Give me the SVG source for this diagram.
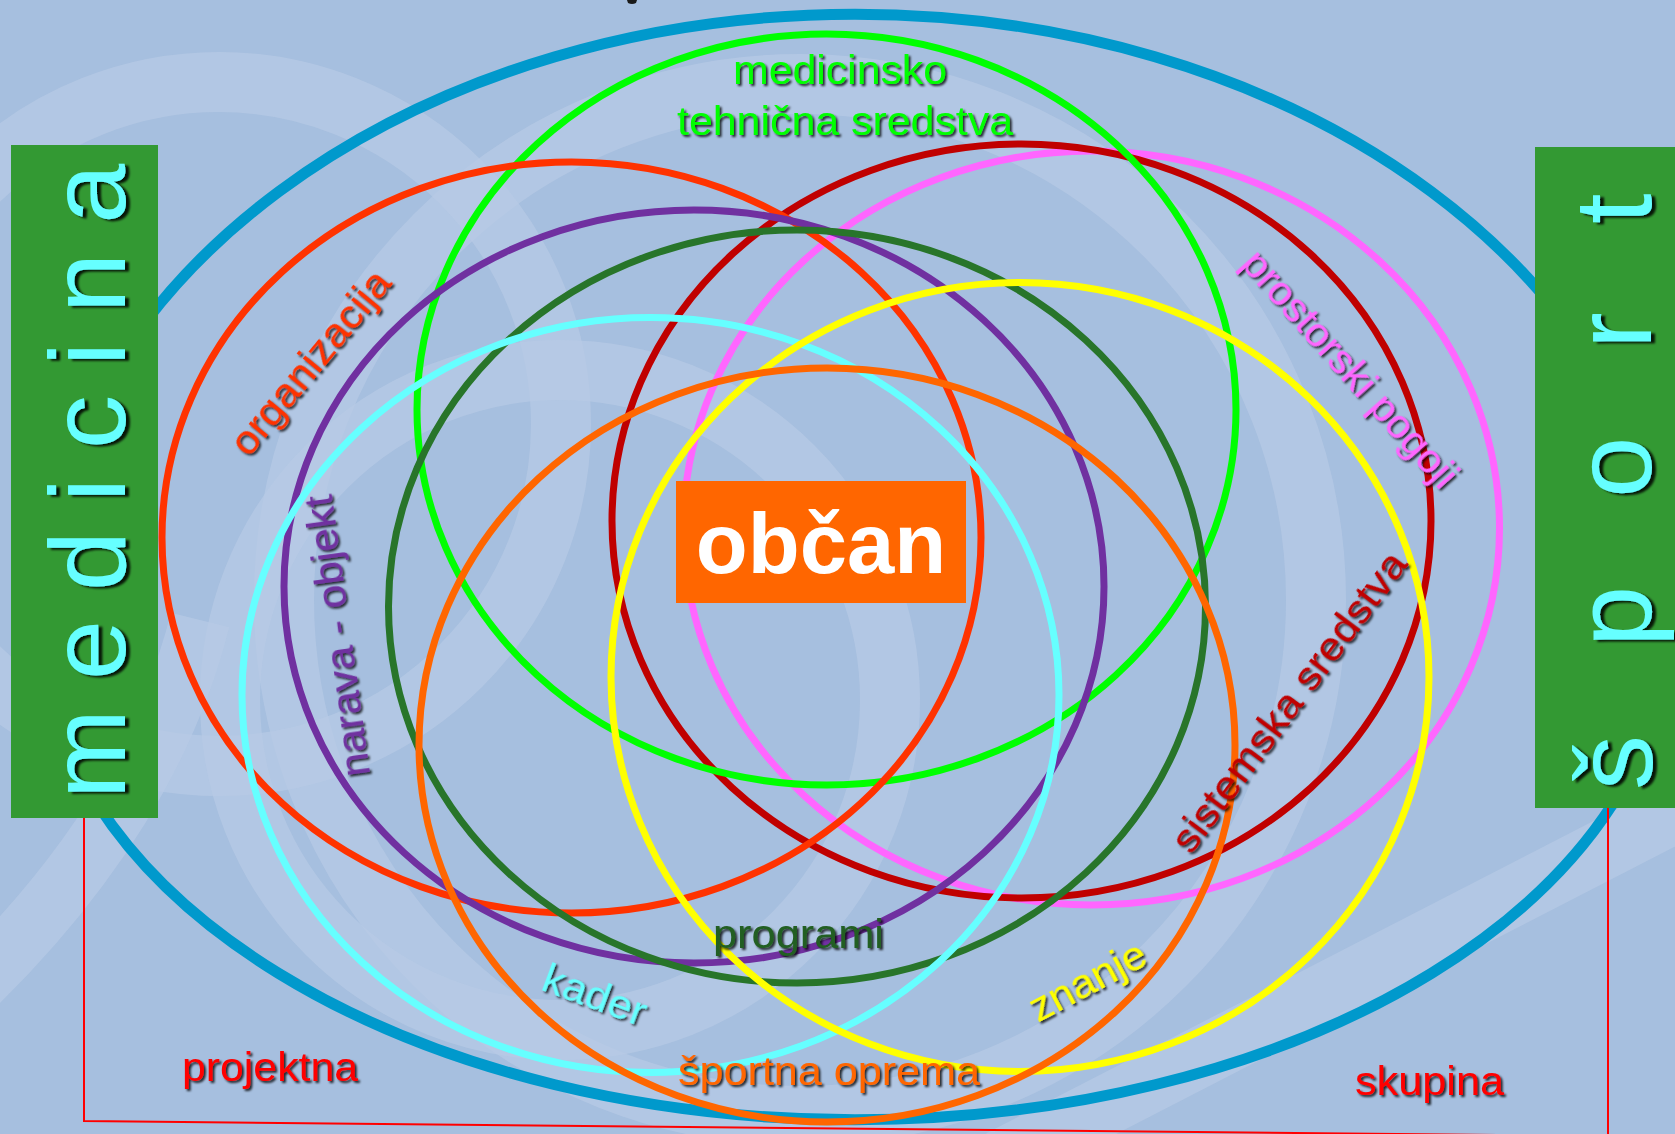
<svg xmlns="http://www.w3.org/2000/svg" width="1675" height="1134" viewBox="0 0 1675 1134">
  <defs>
    <style>
      .ring { fill: none; stroke-width: 7; }
      .bgband { fill: none; stroke: #B8CBE6; stroke-width: 60; opacity: 0.7; }
      .lbl { font-family: "Liberation Sans", Arial, sans-serif; font-size: 40px; }
      .side { font-family: "Liberation Sans", Arial, sans-serif; fill: #66FFFF; }
      .link { fill: none; stroke: #FF0000; stroke-width: 2; }
    </style>
    <filter id="shadow" x="-10%" y="-30%" width="130%" height="160%">
      <feDropShadow dx="2" dy="2" stdDeviation="0.8" flood-color="#000" flood-opacity="0.8"/>
    </filter>
    <filter id="shadowBig" x="-10%" y="-10%" width="130%" height="130%">
      <feDropShadow dx="4" dy="2" stdDeviation="1.2" flood-color="#000" flood-opacity="0.85"/>
    </filter>
  </defs>

  <!-- background with soft light swirl bands -->
  <rect width="1675" height="1134" fill="#A6BFDF"/>
  <g id="background">
    <circle class="bgband" cx="800" cy="600" r="516"/>
    <circle class="bgband" cx="219" cy="424" r="342"/>
    <circle class="bgband" cx="560" cy="700" r="330" opacity="0.35"/>
    <path class="bgband" d="M 1000 1160 L 1700 800" stroke-width="90" opacity="0.5"/>
    <path class="bgband" d="M -40 1000 Q 150 820 200 620" stroke-width="80" opacity="0.5"/>
  </g>

  <!-- outer frame ellipse -->
  <g id="frame">
    <path d="M 40 620 A 815 606 0 0 1 1670 620 A 815 500 0 0 1 40 620 Z" fill="none" stroke="#0099CC" stroke-width="11"/>
  </g>

  <!-- overlapping rings -->
  <g id="rings">
    <ellipse id="ring-pink" class="ring" stroke="#FF66FF" cx="1091.5" cy="528" rx="408" ry="377"/>
    <ellipse id="ring-darkred" class="ring" stroke="#C00000" cx="1021.5" cy="521" rx="409.5" ry="377"/>
    <ellipse id="ring-green" class="ring" stroke="#00FF00" cx="826.5" cy="409.5" rx="409.5" ry="375.5"/>
    <ellipse id="ring-red" class="ring" stroke="#FF3300" cx="571.5" cy="537.5" rx="409.5" ry="375.5"/>
    <ellipse id="ring-purple" class="ring" stroke="#7030A0" cx="694" cy="586.5" rx="410" ry="376.5"/>
    <ellipse id="ring-darkgreen" class="ring" stroke="#28752A" cx="797" cy="606.5" rx="408.5" ry="376.5"/>
    <ellipse id="ring-cyan" class="ring" stroke="#66FFFF" cx="650.5" cy="695" rx="408.5" ry="377.5"/>
    <ellipse id="ring-yellow" class="ring" stroke="#FFFF00" cx="1020" cy="677" rx="409" ry="394.5"/>
    <ellipse id="ring-orange" class="ring" stroke="#FF6600" cx="827" cy="745" rx="408" ry="377"/>
  </g>

  <!-- side boxes -->
  <g id="medicina">
    <rect x="11" y="145" width="147" height="673" fill="#339933"/>
    <g filter="url(#shadowBig)">
      <text class="side" font-size="108" letter-spacing="29" transform="translate(125,799) rotate(-90)">medicina</text>
    </g>
  </g>
  <g id="sport">
    <rect x="1535" y="147" width="140" height="661" fill="#339933"/>
    <g filter="url(#shadowBig)">
      <text class="side" font-size="110" letter-spacing="88" transform="translate(1651,790) rotate(-90)">šport</text>
    </g>
  </g>

  <!-- connectors between the side boxes -->
  <g id="connectors">
    <polyline class="link" points="84,818 84,1121 1700,1137"/>
    <line class="link" x1="1608" y1="808" x2="1608" y2="1134"/>
  </g>

  <!-- ring labels -->
  <g id="labels" filter="url(#shadow)">
    <text class="lbl" fill="#00FF00" x="733" y="84" textLength="214" lengthAdjust="spacingAndGlyphs">medicinsko</text>
    <text class="lbl" fill="#00FF00" x="677" y="135" textLength="336" lengthAdjust="spacingAndGlyphs">tehnična sredstva</text>
    <text class="lbl" fill="#FF3300" text-anchor="middle" textLength="227" lengthAdjust="spacingAndGlyphs" transform="translate(321,371) rotate(-50.4)">organizacija</text>
    <text class="lbl" fill="#7030A0" text-anchor="middle" textLength="284" lengthAdjust="spacingAndGlyphs" transform="translate(351,634) rotate(-97.8)">narava - objekt</text>
    <text class="lbl" fill="#FF66FF" text-anchor="middle" textLength="303" lengthAdjust="spacingAndGlyphs" transform="translate(1340,378) rotate(48.4)">prostorski pogoji</text>
    <text class="lbl" fill="#C00000" text-anchor="middle" textLength="364" lengthAdjust="spacingAndGlyphs" transform="translate(1300,710) rotate(-53.2)">sistemska sredstva</text>
    <text class="lbl" fill="#215E21" x="713" y="948" textLength="171" lengthAdjust="spacingAndGlyphs">programi</text>
    <text class="lbl" fill="#66FFFF" text-anchor="middle" textLength="108" lengthAdjust="spacingAndGlyphs" transform="translate(590,1008) rotate(20.3)">kader</text>
    <text class="lbl" fill="#FFFF00" text-anchor="middle" textLength="127" lengthAdjust="spacingAndGlyphs" transform="translate(1094,993) rotate(-28)">znanje</text>
    <text class="lbl" fill="#FF6600" x="678" y="1085" textLength="302" lengthAdjust="spacingAndGlyphs">športna oprema</text>
    <text class="lbl" fill="#FF0000" x="182" y="1081" textLength="176" lengthAdjust="spacingAndGlyphs">projektna</text>
    <text class="lbl" fill="#FF0000" x="1355" y="1095" textLength="149" lengthAdjust="spacingAndGlyphs">skupina</text>
  </g>

  <!-- centre node -->
  <g id="obcan">
    <rect x="676" y="481" width="290" height="122" fill="#FF6600"/>
    <text x="821" y="573" text-anchor="middle" font-family="'Liberation Sans', Arial, sans-serif" font-weight="bold" font-size="85" fill="#FFFFFF">občan</text>
  </g>

  <!-- clipped glyph fragment at the top edge -->
  <path d="M 627 0 L 637 0 L 636 3 Q 632 5 628 3 Z" fill="#1A1A1A"/>
</svg>
